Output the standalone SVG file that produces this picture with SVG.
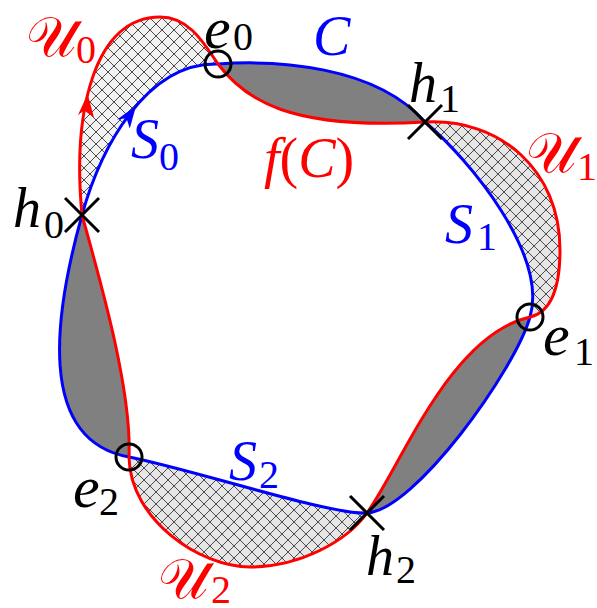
<svg xmlns="http://www.w3.org/2000/svg" width="597" height="608" viewBox="0 0 597 608">
<style>
.bg{fill:#fff}
.dark{fill:#808080;stroke:none}
.blue{fill:none;stroke:#0000ff;stroke-width:3;stroke-linejoin:round}
.red{fill:none;stroke:#ff0000;stroke-width:3;stroke-linejoin:round}
.mk{fill:none;stroke:#000;stroke-width:3}
.t{font-family:"Liberation Serif",serif;font-style:italic;font-size:56px}
.e{font-family:"Liberation Serif",serif;font-style:italic;font-size:60px}
.s{font-family:"Liberation Serif",serif;font-style:normal;font-size:40px}
.u{font-family:"DejaVu Serif","DejaVu Sans","Liberation Serif",serif;font-size:56px}
.cb{fill:#0000ff}.cr{fill:#ff0000}.ck{fill:#000}
</style>
<defs>
<pattern id="hatch" width="12" height="12" patternUnits="userSpaceOnUse">
<path d="M0,0L12,12M12,0L0,12" stroke="#4a4a4a" stroke-width="1"/>
</pattern>
</defs>
<rect class="bg" width="597" height="608"/>
<g id="regions">
<path id="U0-region" fill="#f2f2f2" d="M82,215 C72,110 95,17 160,17 C190,17 205,45 218,64 C145,62 100,150 82,215 Z"/>
<path fill="url(#hatch)" d="M82,215 C72,110 95,17 160,17 C190,17 205,45 218,64 C145,62 100,150 82,215 Z"/>
<path id="U1-region" fill="#e6e6e6" d="M425,122 C500,118 560,170 560,250 C560,285 552,312 530,317 C548,255 470,160 425,122 Z"/>
<path fill="url(#hatch)" d="M425,122 C500,118 560,170 560,250 C560,285 552,312 530,317 C548,255 470,160 425,122 Z"/>
<path id="U2-region" fill="#e6e6e6" d="M367,513 C347,541 300,567 250,567 C200,567 130,520 129,457 C195,470 329,515 367,513 Z"/>
<path fill="url(#hatch)" d="M367,513 C347,541 300,567 250,567 C200,567 130,520 129,457 C195,470 329,515 367,513 Z"/>
<path class="dark" d="M218,64 C275,60 375,65 425,122 C290,130 245,100 218,64 Z"/>
<path class="dark" d="M530,317 C515,370 415,510 367,513 C402,464 450,335 530,317 Z"/>
<path class="dark" d="M129,457 C35,440 55,312 82,215 C100,280 132,390 129,457 Z"/>
</g>
<g id="connectors">
<path id="C" class="blue" d="M82,215 C100,150 145,62 218,64 C275,60 375,65 425,122 C470,160 548,255 530,317 C515,370 415,510 367,513 C329,515 195,470 129,457 C35,440 55,312 82,215 Z"/>
<path id="fC" class="red" d="M82,215 C72,110 95,17 160,17 C190,17 205,45 218,64 C245,100 290,130 425,122 C500,118 560,170 560,250 C560,285 552,312 530,317 C450,335 402,464 367,513 C347,541 300,567 250,567 C200,567 130,520 129,457 C132,390 100,280 82,215 Z"/>
<polygon class="cr" points="87.6,94 78,115 84.3,110.5 94,117.5"/>
<polygon class="cb" points="136,106 117,119.5 126.5,118.2 129.8,128.5"/>
</g>
<g id="h0"><path class="mk" d="M65,198L99,232M99,198L65,232"/></g>
<g id="h1"><path class="mk" d="M408,105L442,139M442,105L408,139"/></g>
<g id="h2"><path class="mk" d="M350,496L384,530M384,496L350,530"/></g>
<g id="e0"><circle class="mk" cx="218" cy="64" r="13"/></g>
<g id="e1"><circle class="mk" cx="530" cy="317" r="13"/></g>
<g id="e2"><circle class="mk" cx="129" cy="457" r="13"/></g>
<g id="labels">
<text class="u cr" x="26" y="56">𝒰</text><text class="s cr" x="76" y="63">0</text>
<text class="e ck" x="204" y="48">e</text><text class="s ck" x="233" y="50">0</text>
<text class="t cb" x="313" y="55">C</text>
<text class="t ck" x="409" y="102">h</text><text class="s ck" x="440" y="112">1</text>
<text class="t cr" x="264" y="177" font-size="60">f<tspan font-style="normal">(</tspan>C<tspan font-style="normal">)</tspan></text>
<text class="u cr" x="526" y="172">𝒰</text><text class="s cr" x="577" y="180">1</text>
<text class="t cb" x="445" y="243">S</text><text class="s cb" x="477" y="250">1</text>
<text class="e ck" x="543" y="355">e</text><text class="s ck" x="574" y="365">1</text>
<text class="t ck" x="366" y="575">h</text><text class="s ck" x="396" y="583">2</text>
<text class="t cb" x="229" y="480">S</text><text class="s cb" x="259" y="488">2</text>
<text class="e ck" x="73" y="507">e</text><text class="s ck" x="99" y="515">2</text>
<text class="u cr" x="158" y="598">𝒰</text><text class="s cr" x="211" y="603">2</text>
<text class="t cb" x="131" y="158">S</text><text class="s cb" x="159" y="170">0</text>
<text class="t ck" x="13" y="227">h</text><text class="s ck" x="44" y="238">0</text>
</g>
</svg>
